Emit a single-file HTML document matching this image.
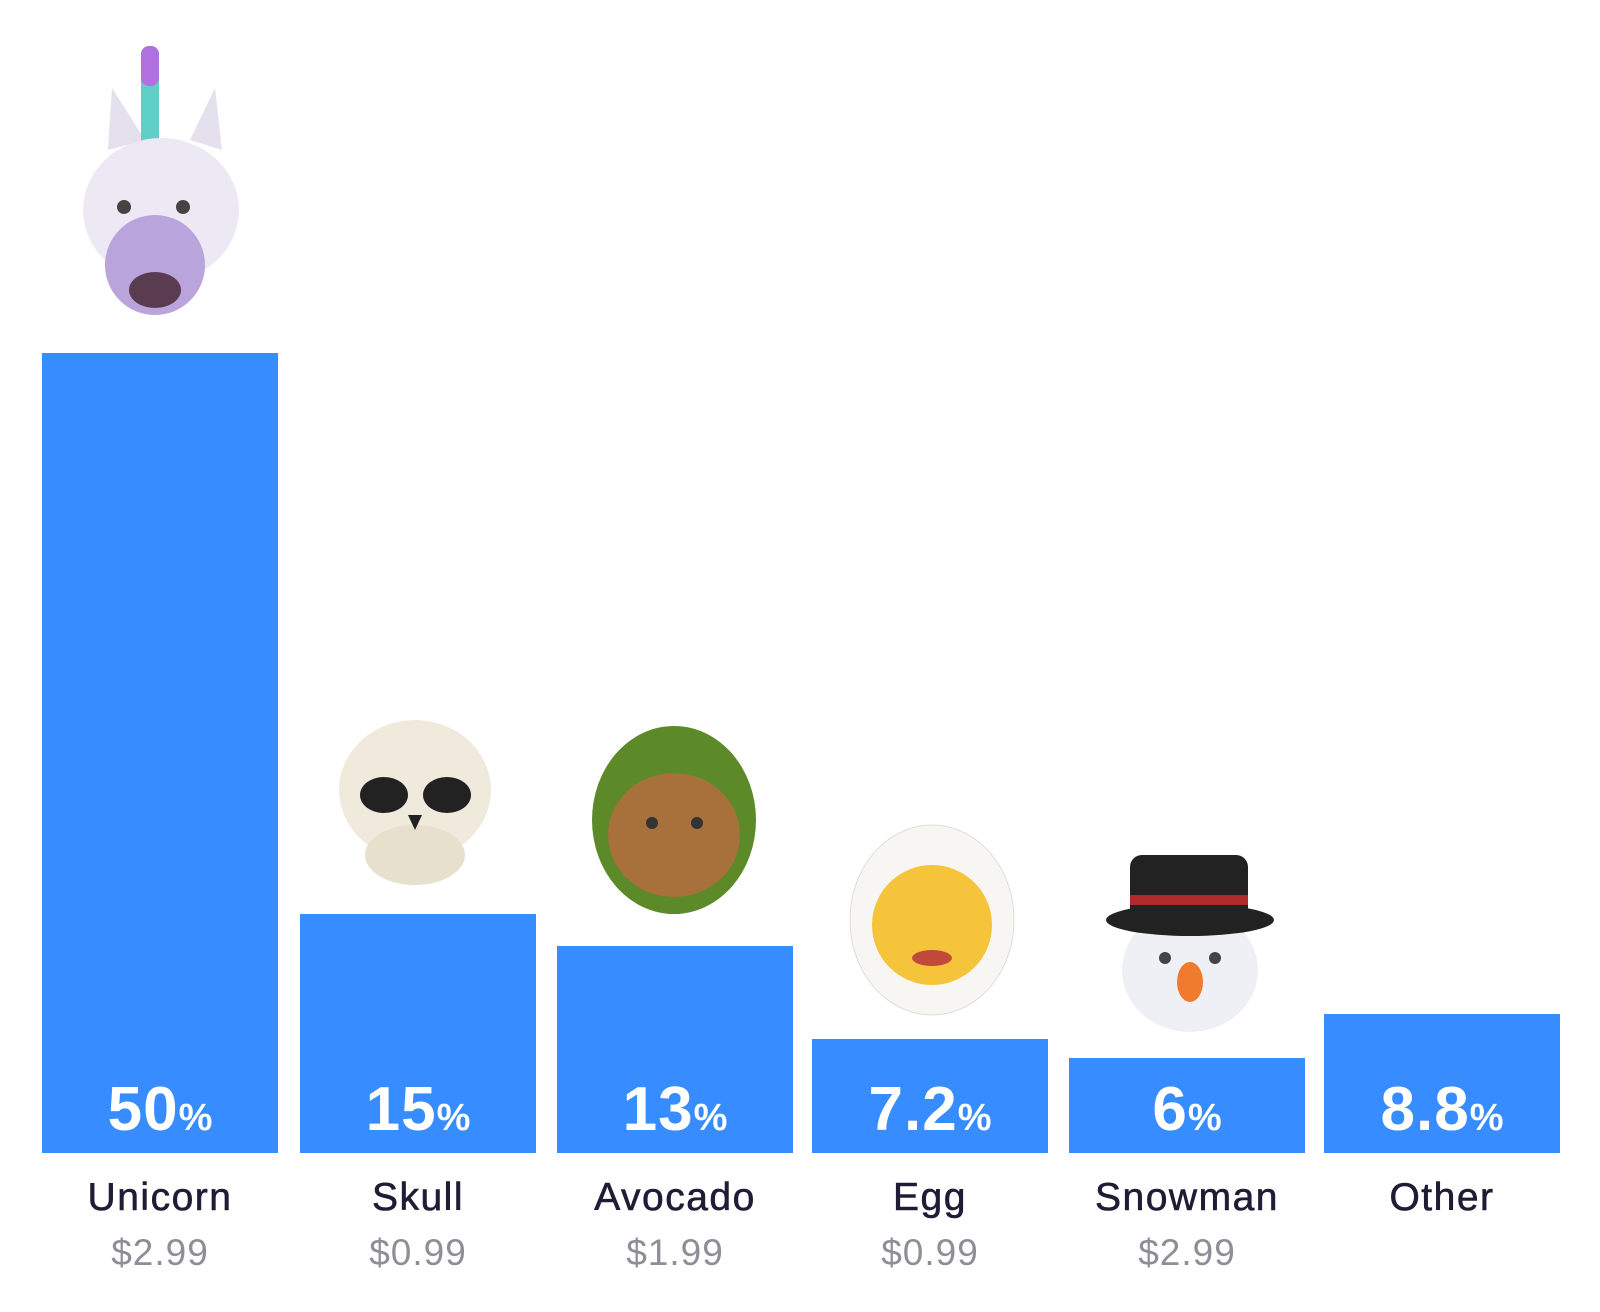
<!DOCTYPE html>
<html><head><meta charset="utf-8"><style>
body{margin:0;background:#fff;width:1600px;height:1312px;overflow:hidden;position:relative;font-family:"Liberation Sans",sans-serif}
.bar{position:absolute;background:#378cff;width:236px;bottom:159px}
.pct{position:absolute;width:236px;text-align:center;top:1074px;color:#fff;font-weight:bold;font-size:62px;letter-spacing:1px}
.pct span{font-size:38px;letter-spacing:0}
.lab{position:absolute;width:236px;text-align:center;top:1176px;color:#1f1d35;font-size:39px;letter-spacing:1.5px;-webkit-text-stroke:0.6px #1f1d35}
.pr{position:absolute;width:236px;text-align:center;top:1232px;color:#8e8e96;font-size:37px;letter-spacing:1px}
svg{position:absolute;left:0;top:0}
</style></head><body>
<div class="bar" style="left:42px;height:800px"></div>
<div class="bar" style="left:300px;height:239px"></div>
<div class="bar" style="left:557px;height:207px"></div>
<div class="bar" style="left:812px;height:114px"></div>
<div class="bar" style="left:1069px;height:95px"></div>
<div class="bar" style="left:1324px;height:139px"></div>

<div class="pct" style="left:42px">50<span>%</span></div>
<div class="pct" style="left:300px">15<span>%</span></div>
<div class="pct" style="left:557px">13<span>%</span></div>
<div class="pct" style="left:812px">7.2<span>%</span></div>
<div class="pct" style="left:1069px">6<span>%</span></div>
<div class="pct" style="left:1324px">8.8<span>%</span></div>

<div class="lab" style="left:42px">Unicorn</div>
<div class="lab" style="left:300px">Skull</div>
<div class="lab" style="left:557px">Avocado</div>
<div class="lab" style="left:812px">Egg</div>
<div class="lab" style="left:1069px">Snowman</div>
<div class="lab" style="left:1324px">Other</div>

<div class="pr" style="left:42px">$2.99</div>
<div class="pr" style="left:300px">$0.99</div>
<div class="pr" style="left:557px">$1.99</div>
<div class="pr" style="left:812px">$0.99</div>
<div class="pr" style="left:1069px">$2.99</div>

<svg width="1600" height="1312">
<!-- unicorn -->
<path d="M108 150 L112 88 L145 140 Z" fill="#e4e0ee"/>
<path d="M190 140 L215 88 L222 150 Z" fill="#e4e0ee"/>
<rect x="141" y="46" width="18" height="104" rx="8" fill="#5fd0c8"/>
<rect x="141" y="46" width="18" height="40" rx="8" fill="#b070e0"/>
<ellipse cx="161" cy="210" rx="78" ry="72" fill="#ece8f4"/>
<ellipse cx="155" cy="265" rx="50" ry="50" fill="#b9a4dc"/>
<ellipse cx="155" cy="290" rx="26" ry="18" fill="#5a3c50"/>
<circle cx="124" cy="207" r="7" fill="#444"/><circle cx="183" cy="207" r="7" fill="#444"/>
<!-- skull -->
<ellipse cx="415" cy="790" rx="76" ry="70" fill="#efeadc"/>
<ellipse cx="415" cy="855" rx="50" ry="30" fill="#e6e0cc"/>
<ellipse cx="384" cy="795" rx="24" ry="18" fill="#222"/><ellipse cx="447" cy="795" rx="24" ry="18" fill="#222"/>
<path d="M408 815 L415 830 L422 815Z" fill="#222"/>
<!-- avocado -->
<ellipse cx="674" cy="820" rx="82" ry="94" fill="#5c8a28"/>
<ellipse cx="674" cy="835" rx="66" ry="62" fill="#a8703a"/>
<circle cx="652" cy="823" r="6" fill="#333"/><circle cx="697" cy="823" r="6" fill="#333"/>
<!-- egg -->
<ellipse cx="932" cy="920" rx="82" ry="95" fill="#f7f6f2" stroke="#ddd"/>
<circle cx="932" cy="925" r="60" fill="#f5c43a"/>
<ellipse cx="932" cy="958" rx="20" ry="8" fill="#c24a3c"/>
<!-- snowman -->
<ellipse cx="1190" cy="970" rx="68" ry="62" fill="#eef0f6"/>
<ellipse cx="1190" cy="920" rx="84" ry="16" fill="#222"/>
<rect x="1130" y="855" width="118" height="65" rx="12" fill="#222"/>
<rect x="1130" y="895" width="118" height="10" fill="#b02a2a"/>
<ellipse cx="1190" cy="982" rx="13" ry="20" fill="#f07a2e"/>
<circle cx="1165" cy="958" r="6" fill="#444"/><circle cx="1215" cy="958" r="6" fill="#444"/>
</svg>
</body></html>
